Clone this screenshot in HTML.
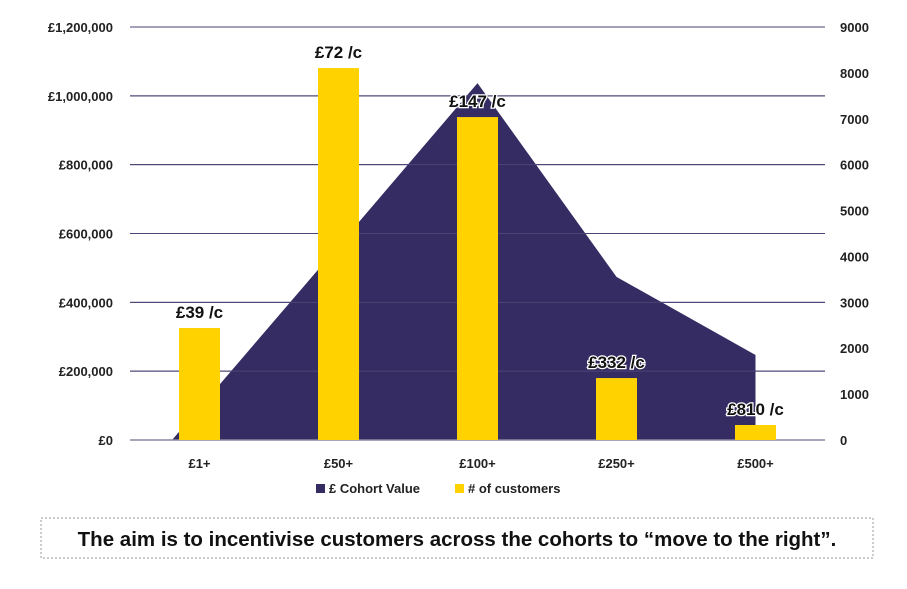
<!DOCTYPE html>
<html><head><meta charset="utf-8"><style>
body{margin:0;background:#fff;width:907px;height:584px;overflow:hidden;font-family:"Liberation Sans",sans-serif;}
</style></head><body>
<svg id="chart" width="907" height="584" xmlns="http://www.w3.org/2000/svg">
<rect x="41" y="518" width="832" height="40" fill="#fff" stroke="#999" stroke-dasharray="2,2"/>
<text x="457" y="546" text-anchor="middle" font-size="20.5" font-weight="bold" fill="#111">The aim is to incentivise customers across the cohorts to “move to the right”.</text>
</svg>
<script>
const categories=["£1+","£50+","£100+","£250+","£500+"];
const cohortValue=[93000,564000,1037000,474000,247000];
const customers=[2440,8105,7037,1350,327];
const perCustomer=["£39 /c","£72 /c","£147 /c","£332 /c","£810 /c"];
const leftTicks=[0,200000,400000,600000,800000,1000000,1200000];
const leftLabels=["£0","£200,000","£400,000","£600,000","£800,000","£1,000,000","£1,200,000"];
const rightTicks=[0,1000,2000,3000,4000,5000,6000,7000,8000,9000];

const NS="http://www.w3.org/2000/svg";
const svg=document.getElementById('chart');
const X0=130,X1=825,Y0=440,Y1=27;
const band=(X1-X0)/categories.length;
const xc=i=>X0+band*(i+0.5);
const yL=v=>Y0-(v/1200000)*(Y0-Y1);
const yR=v=>Y0-(v/9000)*(Y0-Y1);
function mk(tag,attrs,parent){const e=document.createElementNS(NS,tag);for(const k in attrs)e.setAttribute(k,attrs[k]);(parent||svg).appendChild(e);return e;}

const grid=mk('g',{});


leftTicks.forEach((t,i)=>{
  const l=mk('line',{x1:X0,x2:X1,y1:yL(t),y2:yL(t),stroke:'#3a3560','stroke-width':1},grid);
  
  
  const tx=mk('text',{x:113,y:yL(t)+5,'text-anchor':'end','font-size':13,'font-weight':'bold',fill:'#222'});
  tx.textContent=leftLabels[i];
  
  
});
rightTicks.forEach(t=>{
  const tx=mk('text',{x:840,y:yR(t)+5,'font-size':13,'font-weight':'bold',fill:'#222'});
  tx.textContent=String(t);
  
  
});
// area
const y0a=yL(cohortValue[0]),y1a=yL(cohortValue[1]);
const xs=xc(0)-(Y0-y0a)/(y0a-y1a)*(xc(1)-xc(0));
let pts=[[xs,Y0]];
cohortValue.forEach((v,i)=>pts.push([xc(i),yL(v)]));
pts.push([xc(categories.length-1),Y0]);
const area=mk('polygon',{points:pts.map(p=>p.join(',')).join(' '),fill:'#342c62'});


leftTicks.forEach(t=>{
  const l=mk('line',{x1:X0,x2:X1,y1:yL(t),y2:yL(t),stroke:'#4a4575','stroke-width':1});
  
  
});
mk('line',{x1:X0,x2:X1,y1:Y0,y2:Y0,stroke:'#8a88a0','stroke-width':1.5});
// bars
customers.forEach((v,i)=>{
  const b=mk('rect',{x:xc(i)-20.5,y:yR(v),width:41,height:Y0-yR(v),fill:'#ffd200'});
  
  
  const t=mk('text',{x:xc(i),y:yR(v)-10,'text-anchor':'middle','font-size':17,'font-weight':'bold',fill:'#111',stroke:'#fff','stroke-width':2.5,'paint-order':'stroke'});
  t.textContent=perCustomer[i];
  
  
  const c=mk('text',{x:xc(i),y:468,'text-anchor':'middle','font-size':13,'font-weight':'bold',fill:'#222'});
  c.textContent=categories[i];
  
  
});
// legend
const lg=mk('g',{});


mk('rect',{x:316,y:484,width:9,height:9,fill:'#342c62'},lg);
let t1=mk('text',{x:329,y:493,'font-size':13,'font-weight':'bold',fill:'#222'},lg);t1.textContent='£ Cohort Value';


mk('rect',{x:455,y:484,width:9,height:9,fill:'#ffd200'},lg);
let t2=mk('text',{x:468,y:493,'font-size':13,'font-weight':'bold',fill:'#222'},lg);t2.textContent='# of customers';


</script>
</body></html>
